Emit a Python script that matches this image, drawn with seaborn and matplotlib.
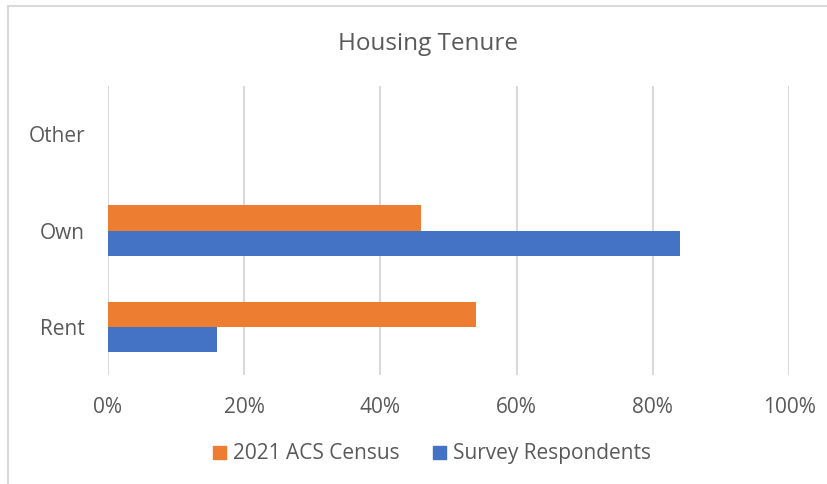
import pandas as pd
import matplotlib.pyplot as plt
import seaborn as sns
from matplotlib.patches import Rectangle

categories = ['Other', 'Own', 'Rent']
series = ['2021 ACS Census', 'Survey Respondents']
acs_census = [0, 46, 54]
survey_respondents = [0, 84, 16]
colors = ['#ED7D31', '#4472C4']
xticks = [0, 20, 40, 60, 80, 100]

df = pd.DataFrame({
    'Tenure': categories * 2,
    'Share': acs_census + survey_respondents,
    'Series': [series[0]] * 3 + [series[1]] * 3,
})

sns.set_theme(style='white')
plt.rcParams['font.family'] = ['Open Sans', 'DejaVu Sans']
text_color = '#595959'
grid_color = '#d9d9d9'

fig = plt.figure(figsize=(8.28, 4.84), dpi=100)
ax = fig.add_axes([0.1304, 0.2252, 0.8225, 0.5971])

sns.barplot(data=df, x='Share', y='Tenure', hue='Series', order=categories,
            hue_order=series, palette=colors, orient='h', width=0.52,
            linewidth=0, saturation=1, ax=ax)

ax.set_xlim(0, 100)
ax.set_xticks(xticks)
ax.set_xticklabels([f'{t}%' for t in xticks])
ax.grid(axis='x', color=grid_color, linewidth=1.5)
ax.set_axisbelow(True)
for s in ax.spines.values():
    s.set_visible(False)
ax.tick_params(axis='both', length=0, labelsize=15, labelcolor=text_color)
ax.tick_params(axis='x', pad=16)
ax.tick_params(axis='y', pad=16.5)
ax.set_xlabel('')
ax.set_ylabel('')

ax.legend_.remove()
handles = [Rectangle((0, 0), 1, 1, color=c) for c in colors]
fig.legend(handles, series, loc='center', bbox_to_anchor=(0.522, 0.062), ncol=2,
           frameon=False, fontsize=15, labelcolor=text_color,
           handlelength=0.6, handleheight=0.6, handletextpad=0.35, columnspacing=1.6)

fig.text(0.517, 0.909, 'Housing Tenure', ha='center', va='center',
         fontsize=17.5, color=text_color)

# chart frame (cropped on the right and bottom)
fig.patches.append(Rectangle((8 / 828, -0.1), 1.2, (484 - 6) / 484 + 0.1,
                             transform=fig.transFigure, fill=False,
                             edgecolor=grid_color, linewidth=1.5))

fig.savefig('out.png', dpi=100)
